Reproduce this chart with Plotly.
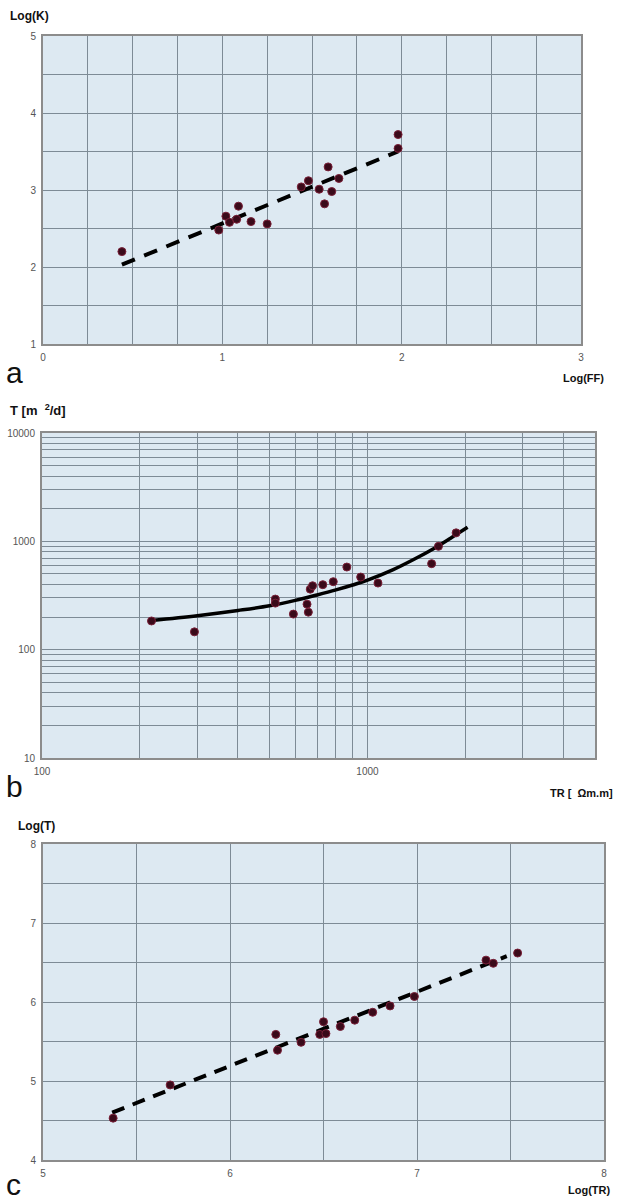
import math
import plotly.graph_objects as go

# ---------------- Panel a data ----------------
a_ff = [0.44, 0.98, 1.02, 1.04, 1.08, 1.09, 1.16, 1.25, 1.44, 1.48, 1.54, 1.57, 1.59, 1.61, 1.65, 1.98, 1.98]
a_k = [2.20, 2.48, 2.66, 2.58, 2.62, 2.79, 2.59, 2.56, 3.04, 3.12, 3.01, 2.82, 3.30, 2.98, 3.15, 3.72, 3.54]
a_fit_ff = [0.44, 1.98]
a_fit_k = [2.03, 3.50]

# ---------------- Panel b data ----------------
b_tr = [217, 294, 521, 521, 592, 652, 658, 667, 678, 729, 785, 864, 953, 1077, 1574, 1652, 1872]
b_t = [184, 146, 293, 269, 213, 263, 222, 362, 389, 398, 424, 579, 468, 412, 622, 899, 1197]
b_fit_tr = [217, 300, 400, 500, 600, 700, 800, 900, 1000, 1200, 1400, 1600, 1800, 2030]
b_fit_t = [186, 206, 230, 254, 285, 320, 356, 395, 438, 548, 690, 860, 1070, 1348]

# ---------------- Panel c data ----------------
c_tr = [5.375, 5.68, 6.245, 6.254, 6.38, 6.48, 6.50, 6.513, 6.59, 6.667, 6.763, 6.856, 6.986, 7.369, 7.408, 7.538]
c_t = [4.53, 4.95, 5.59, 5.39, 5.49, 5.59, 5.75, 5.60, 5.69, 5.77, 5.87, 5.95, 6.07, 6.53, 6.49, 6.62]
c_fit_tr = [5.37, 7.48]
c_fit_t = [4.60, 6.58]

# tick / grid positions
a_xtickvals = [0, 0.25, 0.5, 0.75, 1, 1.25, 1.5, 1.75, 2, 2.25, 2.5, 2.75, 3]
a_ytickvals = [1, 1.5, 2, 2.5, 3, 3.5, 4, 4.5, 5]
b_xtickvals = [100, 200, 300, 400, 500, 600, 700, 800, 900, 1000, 2000, 3000, 4000, 5000]
b_ytickvals = [10, 20, 30, 40, 50, 60, 70, 80, 90, 100, 200, 300, 400, 500, 600, 700, 800, 900,
               1000, 2000, 3000, 4000, 5000, 6000, 7000, 8000, 9000, 10000]
c_xtickvals = [5, 5.5, 6, 6.5, 7, 7.5, 8]
c_ytickvals = [4, 4.5, 5, 5.5, 6, 6.5, 7, 7.5, 8]

W, H = 627, 1200
BG = "#dde9f2"
GRID = "#7d8b96"
FRAME = "#8c8c8c"
MK = "#3a0a1a"
MKL = "#7a2038"
TICKFONT = dict(family="Liberation Sans, Arial", size=10, color="#555555")


def lbl(vals, keep):
    return [fmt if fmt is not None else " " for fmt in (keep(v) for v in vals)]


def int_only(v):
    return str(int(round(v))) if abs(v - round(v)) < 1e-9 else None


def decade_only(v):
    lv = math.log10(v)
    return str(int(v)) if abs(lv - round(lv)) < 1e-9 else None


fig = go.Figure()

marker = dict(color=MK, size=8, line=dict(color=MKL, width=1))

fig.add_trace(go.Scatter(x=a_fit_ff, y=a_fit_k, mode="lines", xaxis="x", yaxis="y",
                         line=dict(color="black", width=4, dash="14px,10px"), showlegend=False))
fig.add_trace(go.Scatter(x=a_ff, y=a_k, mode="markers", xaxis="x", yaxis="y",
                         marker=marker, showlegend=False))

fig.add_trace(go.Scatter(x=b_fit_tr, y=b_fit_t, mode="lines", xaxis="x2", yaxis="y2",
                         line=dict(color="black", width=3.5, shape="spline", smoothing=1.0),
                         showlegend=False))
fig.add_trace(go.Scatter(x=b_tr, y=b_t, mode="markers", xaxis="x2", yaxis="y2",
                         marker=marker, showlegend=False))

fig.add_trace(go.Scatter(x=c_fit_tr, y=c_fit_t, mode="lines", xaxis="x3", yaxis="y3",
                         line=dict(color="black", width=4, dash="13px,9px"), showlegend=False))
fig.add_trace(go.Scatter(x=c_tr, y=c_t, mode="markers", xaxis="x3", yaxis="y3",
                         marker=marker, showlegend=False))


def px_x(p):
    return p / W


def px_y(p):
    return 1 - p / H


def axis_common():
    return dict(showgrid=True, gridcolor=GRID, gridwidth=1, zeroline=False,
                showline=True, linecolor=FRAME, linewidth=2, mirror=True,
                tickfont=TICKFONT, ticks="", fixedrange=True, automargin=False,
                ticklabelstandoff=3)


fig.update_layout(
    width=W, height=H, margin=dict(l=0, r=0, t=0, b=0, autoexpand=False),
    paper_bgcolor="white", plot_bgcolor=BG,
    xaxis=dict(domain=[px_x(43), px_x(581)], anchor="y", range=[0, 3], tickmode="array",
               tickvals=a_xtickvals, ticktext=lbl(a_xtickvals, int_only), **axis_common()),
    yaxis=dict(domain=[px_y(344), px_y(36)], anchor="x", range=[1, 5], tickmode="array",
               tickvals=a_ytickvals, ticktext=lbl(a_ytickvals, int_only), **axis_common()),
    xaxis2=dict(domain=[px_x(42), px_x(595)], anchor="y2", type="log",
                range=[2, math.log10(5000)], tickmode="array",
                tickvals=b_xtickvals, ticktext=lbl(b_xtickvals, decade_only), **axis_common()),
    yaxis2=dict(domain=[px_y(758), px_y(433)], anchor="x2", type="log", range=[1, 4],
                tickmode="array", tickvals=b_ytickvals, ticktext=lbl(b_ytickvals, decade_only),
                **axis_common()),
    xaxis3=dict(domain=[px_x(43), px_x(604)], anchor="y3", range=[5, 8], tickmode="array",
                tickvals=c_xtickvals, ticktext=lbl(c_xtickvals, int_only), **axis_common()),
    yaxis3=dict(domain=[px_y(1160), px_y(844)], anchor="x3", range=[4, 8], tickmode="array",
                tickvals=c_ytickvals, ticktext=lbl(c_ytickvals, int_only), **axis_common()),
)

TITLE = dict(family="Liberation Sans, Arial", size=12, color="#111111")
NARROW = dict(family="Liberation Sans Narrow, Liberation Sans, Arial", size=11, color="#111111")
LET = dict(family="Liberation Sans, Arial", size=30, color="#111111")

ann = [
    dict(text="<b>Log(K)</b>", x=px_x(8), y=px_y(16), xanchor="left", yanchor="middle", font=TITLE),
    dict(text="a", x=px_x(4), y=px_y(373), xanchor="left", yanchor="middle", font=LET),
    dict(text="<b>Log(FF)</b>", x=px_x(606), y=px_y(378), xanchor="right", yanchor="middle",
         font=dict(TITLE, size=11)),
    dict(text="<b>T [m  <sup>2</sup>/d]</b>", x=px_x(8), y=px_y(410), xanchor="left",
         yanchor="middle", font=dict(TITLE, size=13)),
    dict(text="b", x=px_x(4), y=px_y(786), xanchor="left", yanchor="middle", font=LET),
    dict(text="<b>TR [  Ωm.m]</b>", x=px_x(615), y=px_y(793), xanchor="right", yanchor="middle",
         font=NARROW),
    dict(text="<b>Log(T)</b>", x=px_x(16), y=px_y(826), xanchor="left", yanchor="middle",
         font=dict(TITLE, size=12)),
    dict(text="c", x=px_x(4), y=px_y(1184), xanchor="left", yanchor="middle", font=LET),
    dict(text="<b>Log(TR)</b>", x=px_x(612), y=px_y(1190), xanchor="right", yanchor="middle",
         font=NARROW),
]
for a in ann:
    a.update(xref="paper", yref="paper", showarrow=False)
fig.update_layout(annotations=ann)

fig.write_html("out.html")
